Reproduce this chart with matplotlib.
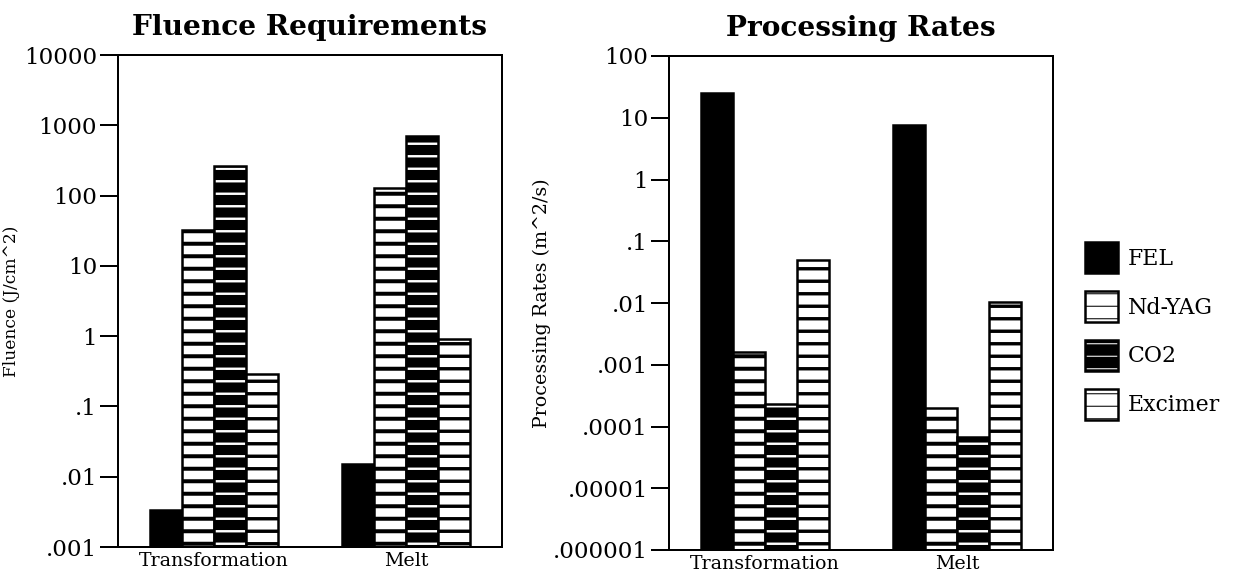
import matplotlib
matplotlib.use("Agg")
import matplotlib.pyplot as plt
from matplotlib.patches import Patch

DPI = 75

categories = ["Transformation", "Melt"]
lasers = ["FEL", "Nd-YAG", "CO2", "Excimer"]

# fluence requirements, J/cm^2
fluence_fel = [0.0034, 0.015]
fluence_ndyag = [32, 130]
fluence_co2 = [260, 700]
fluence_excimer = [0.29, 0.9]

# processing rates, m^2/s
rate_fel = [25, 7.5]
rate_ndyag = [0.0016, 0.0002]
rate_co2 = [0.00023, 0.000068]
rate_excimer = [0.05, 0.0105]

fluence_ticks = [1e-3, 1e-2, 1e-1, 1, 10, 100, 1000, 10000]
fluence_labels = [".001", ".01", ".1", "1", "10", "100", "1000", "10000"]
rate_ticks = [1e-6, 1e-5, 1e-4, 1e-3, 1e-2, 1e-1, 1, 10, 100]
rate_labels = [".000001", ".00001", ".0001", ".001", ".01", ".1", "1", "10", "100"]

plt.rcParams["font.family"] = ["DejaVu Serif"]


def px(p):
    # pixels -> points at this dpi
    return p * 72.0 / DPI


def set_hlw(artists, lw):
    for a in artists:
        if hasattr(a, "set_hatch_linewidth"):
            a.set_hatch_linewidth(lw)


def draw_panel(ax, series, ymin, ymax, ticks, labels, ylabel, ylabel_size, ylabel_pad, title):
    group_centers = [3, 9]
    offsets = [-1.5, -0.5, 0.5, 1.5]
    edge = px(2.5)
    handles = []
    for i, vals in enumerate(series):
        xs = [c + offsets[i] for c in group_centers]
        heights = [v - ymin for v in vals]
        if i == 0:
            ax.bar(xs, heights, bottom=ymin, width=1.0, color="black",
                   edgecolor="black", linewidth=edge)
            handles.append(Patch(facecolor="black", edgecolor="black", linewidth=edge))
        elif i == 2:
            with plt.rc_context({"hatch.linewidth": px(2.4)}):
                b = ax.bar(xs, heights, bottom=ymin, width=1.0, color="black",
                           edgecolor="white", linewidth=0, hatch="-")
                set_hlw(b, px(2.4))
                h1 = Patch(facecolor="black", edgecolor="white", linewidth=0, hatch="-")
                set_hlw([h1], px(2.4))
            ax.bar(xs, heights, bottom=ymin, width=1.0, fill=False,
                   edgecolor="black", linewidth=edge)
            h2 = Patch(fill=False, edgecolor="black", linewidth=edge)
            handles.append((h1, h2))
        else:
            lw = px(4.0) if i == 1 else px(3.4)
            with plt.rc_context({"hatch.linewidth": lw}):
                b = ax.bar(xs, heights, bottom=ymin, width=1.0, color="white",
                           edgecolor="black", linewidth=edge, hatch="-")
                set_hlw(b, lw)
                h = Patch(facecolor="white", edgecolor="black", linewidth=edge, hatch="-")
                set_hlw([h], lw)
            handles.append(h)

    ax.set_yscale("log")
    ax.set_ylim(ymin, ymax)
    ax.set_xlim(0, 12)
    ax.set_yticks(ticks)
    ax.set_yticklabels(labels)
    ax.minorticks_off()
    ax.tick_params(axis="y", length=px(18), width=px(2), pad=px(3),
                   labelsize=px(23))
    ax.set_xticks(group_centers)
    ax.set_xticklabels(categories)
    ax.tick_params(axis="x", length=0, pad=px(5), labelsize=px(19))
    for s in ax.spines.values():
        s.set_linewidth(px(2))
    ax.set_ylabel(ylabel, fontsize=px(ylabel_size), labelpad=px(ylabel_pad))
    ax.set_title(title, fontsize=px(28), fontweight="bold", pad=px(20))
    return handles


fig = plt.figure(figsize=(1241 / DPI, 579 / DPI), dpi=DPI)
ax1 = fig.add_axes([118 / 1241, 32 / 579, 384 / 1241, 492 / 579])
ax2 = fig.add_axes([669 / 1241, 29 / 579, 384 / 1241, 494 / 579])

draw_panel(ax1, [fluence_fel, fluence_ndyag, fluence_co2, fluence_excimer],
           1e-3, 1e4, fluence_ticks, fluence_labels,
           "Fluence (J/cm^2)", 17, 4, "Fluence Requirements")
handles = draw_panel(ax2, [rate_fel, rate_ndyag, rate_co2, rate_excimer],
                     1e-6, 100, rate_ticks, rate_labels,
                     "Processing Rates (m^2/s)", 19, 2, "Processing Rates")

fig.legend(handles, lasers, loc="center left",
           bbox_to_anchor=(1085 / 1241, 1 - 331 / 579), frameon=False,
           borderaxespad=0, borderpad=0,
           fontsize=px(22), handlelength=1.5, handleheight=1.8,
           labelspacing=0.8, handletextpad=0.45)

fig.savefig("out.png", dpi=DPI)
